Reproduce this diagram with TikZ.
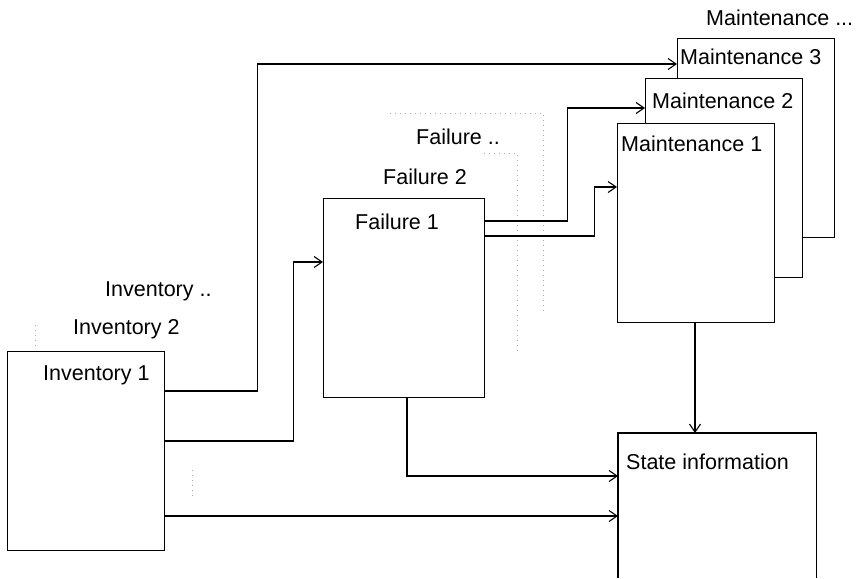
\documentclass[tikz,border=0pt]{standalone}
\usepackage{fontspec}
\setmainfont{Liberation Sans}
\usetikzlibrary{arrows.meta}
\tikzset{
  box/.style={draw, fill=white, anchor=north west, inner sep=0pt, line width=1.1pt},
  lbl/.style={anchor=west, inner sep=0pt, font=\fontsize{21.5}{24}\selectfont},
  conn/.style={line width=1.1pt},
  arr/.style={conn, -{Straight Barb[length=8pt,width=11pt,line width=1.1pt]}},
  ghost/.style={draw=gray!70, line width=0.8pt, dash pattern=on 1pt off 4pt}
}
\begin{document}
\begin{tikzpicture}[x=1pt,y=-1pt]
\useasboundingbox (0,0) rectangle (861,578);
% faint stacked pages
\draw[ghost] (390,113) -- (543,113) -- (543,312);
\draw[ghost] (484,153) -- (517,153) -- (517,352);
\draw[ghost] (35,325) -- (35,350);
\draw[ghost] (192,470) -- (192,500);
% boxes
\node[box, minimum width=157pt, minimum height=199pt] (inv1) at (7,351) {};
\node[box, minimum width=161pt, minimum height=199pt] (f1) at (323,198) {};
\node[box, minimum width=157pt, minimum height=199pt] (m3) at (677,38) {};
\node[box, minimum width=157pt, minimum height=199pt] (m2) at (645,78) {};
\node[box, minimum width=157pt, minimum height=199pt] (m1) at (617,123) {};
\node[anchor=north west, inner sep=0pt, minimum width=198pt, minimum height=145pt] (si) at (618,433) {};
\draw[conn] (si.south west) -- (si.north west) -- (si.north east) -- (si.south east);
% labels
\node[lbl] (tinv1) at (43,375) {Inventory 1};
\node[lbl] (tinv2) at (73,329) {Inventory 2};
\node[lbl] (tinv3) at (105,291) {Inventory ..};
\node[lbl] (tf1) at (355,222) {Failure 1};
\node[lbl] (tf2) at (383,177) {Failure 2};
\node[lbl] (tf3) at (416,137) {Failure ..};
\node[lbl] (tm1) at (621,144) {Maintenance 1};
\node[lbl] (tm2) at (652,101) {Maintenance 2};
\node[lbl] (tm3) at (680,57) {Maintenance 3};
\node[lbl] (tm4) at (706,18) {Maintenance ...};
\node[lbl] (tsi) at (626,462) {State information};
% connectors
\draw[arr] ([yshift=-40pt]inv1.north east) -- ++(92,0) |- ([yshift=-26pt]m3.north west);
\draw[arr] ([yshift=-90pt]inv1.north east) -- ++(128,0) |- ([yshift=-64pt]f1.north west);
\coordinate (invout) at ([yshift=-165pt]inv1.north east);
\draw[arr] (invout) -- (invout -| si.west);
\draw[arr] ([yshift=-23pt]f1.north east) -- ++(82,0) |- ([yshift=-30pt]m2.north west);
\draw[arr] ([yshift=-38pt]f1.north east) -- ++(109,0) |- ([yshift=-64pt]m1.north west);
\draw[arr] ([xshift=84pt]f1.south west) |- ([yshift=-43pt]si.north west);
\coordinate (mout) at ([xshift=78pt]m1.south west);
\draw[arr] (mout) -- (mout |- si.north);
\end{tikzpicture}
\end{document}
